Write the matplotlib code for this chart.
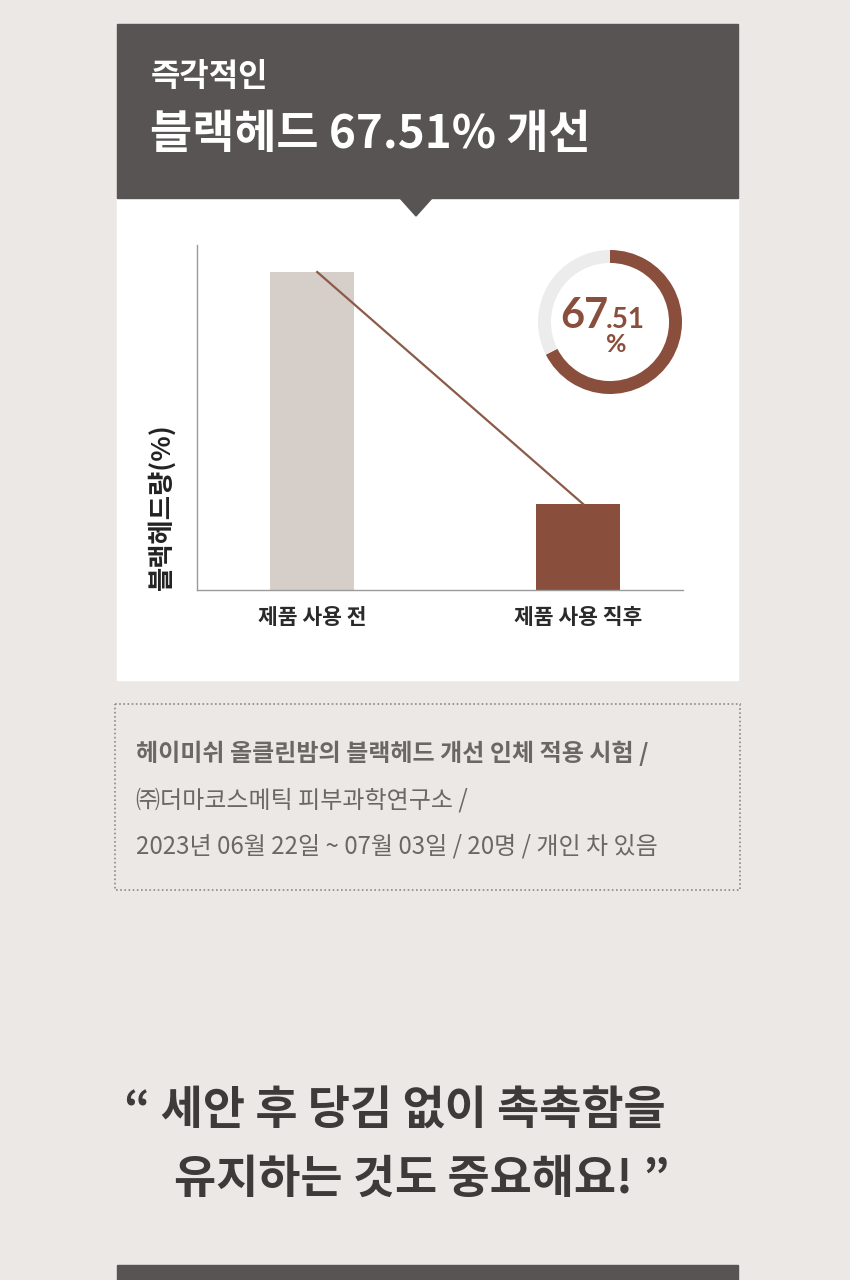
import numpy as np
import matplotlib.pyplot as plt
from matplotlib.patches import Rectangle, Polygon

plt.rcParams['font.family'] = ['Noto Sans CJK KR', 'DejaVu Sans']

# 데이터
categories = ['제품 사용 전', '제품 사용 직후']
values = [100, 27]
improve = 67.51
title_small = '즉각적인'
title_big = '블랙헤드 67.51% 개선'
ylabel = '블랙헤드량(%)'
note_lines = ['헤이미쉬 올클린밤의 블랙헤드 개선 인체 적용 시험 /',
              '㈜더마코스메틱 피부과학연구소 /',
              '2023년 06월 22일 ~ 07월 03일 / 20명 / 개인 차 있음']
quote_lines = ['\u201c 세안 후 당김 없이 촉촉함을', '유지하는 것도 중요해요! \u201d']

bg = '#ebe8e6'
dark = '#585453'
brown = '#8a4f3c'
light_bar = '#d6cec9'

W, H = 850, 1280
fig = plt.figure(figsize=(W / 100, H / 100), dpi=100, facecolor=bg)

# 배경 (픽셀 좌표)
ax = fig.add_axes([0, 0, 1, 1])
ax.set_xlim(0, W)
ax.set_ylim(H, 0)
ax.axis('off')
ax.set_facecolor(bg)

ax.add_patch(Rectangle((117, 198), 621, 482, color='white', zorder=1))
ax.add_patch(Rectangle((117, 24), 621, 174, color=dark, zorder=2))
ax.add_patch(Polygon([[399, 197], [433, 197], [416, 216]], closed=True, color=dark, zorder=2))
ax.add_patch(Rectangle((117, 1265), 621, 20, color=dark, zorder=2))

ax.text(151, 77, title_small, color='white', fontsize=23, fontweight='bold', va='center', ha='left', zorder=3)
ax.text(150, 135, title_big, color='white', fontsize=33, fontweight='bold', va='center', ha='left', zorder=3)

# 점선 박스
ax.add_patch(Rectangle((115, 704), 625, 186, fill=False, edgecolor='#8c8a88',
                       linewidth=1.2, linestyle=(0, (1, 1.5)), zorder=2))
note_y = [753, 800, 846]
for i, (line, yy) in enumerate(zip(note_lines, note_y)):
    ax.text(136, yy, line, color='#6b6765', fontsize=17.3,
            fontweight='bold' if i == 0 else 'normal', va='center', ha='left', zorder=3)

ax.text(124, 1112, quote_lines[0], color='#3d3a39', fontsize=33, fontweight='bold', va='center', ha='left')
ax.text(174, 1180, quote_lines[1], color='#3d3a39', fontsize=33, fontweight='bold', va='center', ha='left')

ax.text(162, 507, ylabel, color='#222222', fontsize=19, fontweight='bold', rotation=90,
        va='center', ha='center', zorder=3)

# 막대 차트
ax2 = fig.add_axes([197 / W, 1 - 590 / H, 486 / W, 345 / H])
ax2.set_facecolor('none')
x = np.arange(len(categories))
ax2.bar(x, values, width=0.316, color=[light_bar, brown], zorder=2)
ax2.plot(x + 0.02, values, color='#8b5a48', linewidth=1.6, zorder=3)
ax2.set_xlim(-0.432, 1.395)
ax2.set_ylim(0, 108.5)
for s in ['top', 'right']:
    ax2.spines[s].set_visible(False)
for s in ['left', 'bottom']:
    ax2.spines[s].set_color('#9a9a9a')
    ax2.spines[s].set_linewidth(1)
ax2.set_yticks([])
ax2.set_xticks(x)
ax2.set_xticklabels(categories, fontsize=15.5, fontweight='bold', color='#2a2a2a')
ax2.tick_params(axis='x', length=0, pad=12)

# 도넛
ax3 = fig.add_axes([538 / W, 1 - 394 / H, 144 / W, 144 / H])
ax3.pie([improve, 100 - improve], colors=[brown, '#ececec'], startangle=90,
        counterclock=False, wedgeprops=dict(width=0.18, edgecolor='none'))
ax3.set_xlim(-1, 1)
ax3.set_ylim(-1, 1)
ax3.set_aspect('equal')
ax.text(608, 328, '67', color=brown, fontsize=30, fontweight='bold', family=['Lato', 'DejaVu Sans'],
        ha='right', va='baseline', zorder=5)
ax.text(606, 328, '.51', color=brown, fontsize=20, fontweight='bold', family=['Lato', 'DejaVu Sans'],
        ha='left', va='baseline', zorder=5)
ax.text(616, 345, '%', color=brown, fontsize=18, fontweight='bold', family=['Lato', 'DejaVu Sans'],
        ha='center', va='center', zorder=5)

fig.savefig('out.png', dpi=100, facecolor=bg)
